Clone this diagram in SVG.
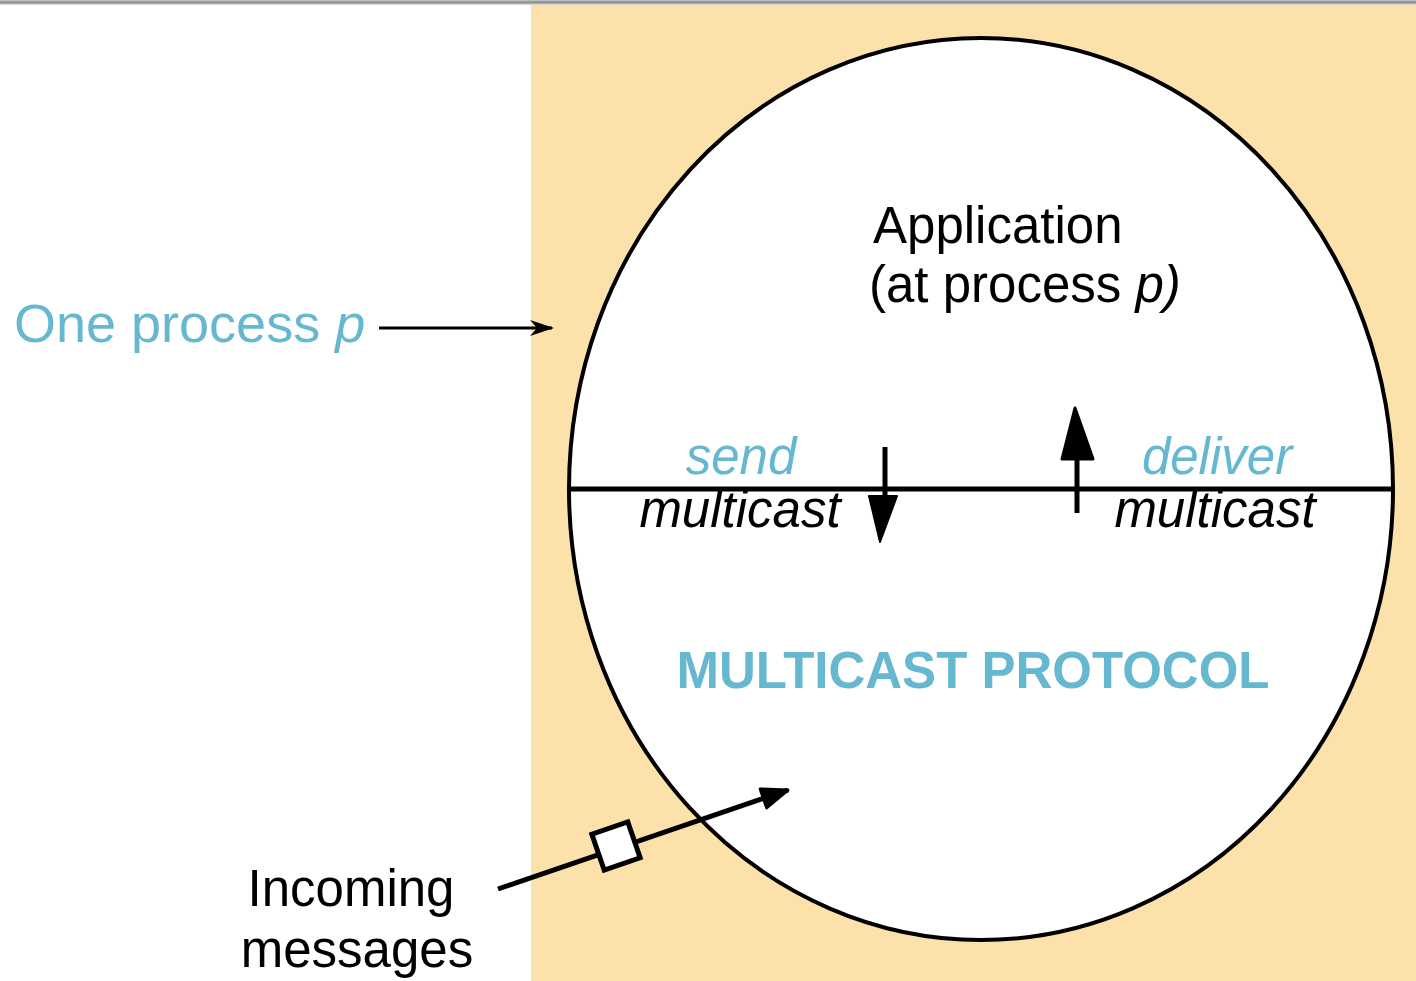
<svg xmlns="http://www.w3.org/2000/svg" width="1416" height="981" viewBox="0 0 1416 981">
  <defs>
    <linearGradient id="topbar" x1="0" y1="0" x2="0" y2="1">
      <stop offset="0" stop-color="#c8c8c8"/>
      <stop offset="0.5" stop-color="#8a8a8a"/>
      <stop offset="1" stop-color="#e8e8e8"/>
    </linearGradient>
    <marker id="chevron" viewBox="0 0 24 16" refX="22" refY="8" markerWidth="24" markerHeight="16" markerUnits="userSpaceOnUse" orient="auto">
      <path d="M0,0 L24,8 L0,16 L7,8 Z" fill="#000"/>
    </marker>
    <marker id="solid" viewBox="0 0 30 24" refX="28" refY="12" markerWidth="30" markerHeight="24" markerUnits="userSpaceOnUse" orient="auto">
      <path d="M2,2 L28,12 L2,22 Z" fill="#000" stroke="#000" stroke-width="3" stroke-linejoin="round"/>
    </marker>
  </defs>
  <style>
    .sans { font-family: "Liberation Sans", Arial, sans-serif; }
    .blue { fill: #66b8d1; }
    .black { fill: #000; }
    .big { font-size: 51px; }
    .ital { font-style: italic; }
    .line { stroke: #000; stroke-width: 5; fill: none; }
  </style>

  <rect x="0" y="0" width="1416" height="981" fill="#ffffff"/>
  <rect x="0" y="0" width="1416" height="5" fill="url(#topbar)"/>

  <!-- process area -->
  <g id="process">
    <rect x="531" y="5" width="885" height="976" fill="#fde1ab"/>
    <ellipse cx="981" cy="489" rx="412" ry="451" fill="#ffffff" stroke="#000" stroke-width="4"/>
    <line x1="569" y1="489" x2="1394" y2="489" stroke="#000" stroke-width="5"/>
  </g>

  <g id="label-process">
    <text class="sans blue" x="14" y="342" font-size="54">One process <tspan font-style="italic">p</tspan></text>
  </g>

  <g id="application">
    <text class="sans black big" x="873" y="243">Application</text>
    <text class="sans black big" x="869" y="302">(at process <tspan font-style="italic">p)</tspan></text>
  </g>

  <g id="send-multicast">
    <text class="sans blue ital big" x="741" y="474" text-anchor="middle">send</text>
    <text class="sans black ital big" x="740" y="527" text-anchor="middle">multicast</text>
  </g>

  <g id="deliver-multicast">
    <text class="sans blue ital big" x="1217" y="474" text-anchor="middle">deliver</text>
    <text class="sans black ital big" x="1215" y="527" text-anchor="middle">multicast</text>
  </g>

  <g id="protocol">
    <text class="sans blue" x="973" y="688" font-size="51" font-weight="bold" text-anchor="middle">MULTICAST PROTOCOL</text>
  </g>

  <g id="incoming">
    <text class="sans black big" x="351" y="906" text-anchor="middle">Incoming</text>
    <text class="sans black big" x="357" y="967" text-anchor="middle">messages</text>
  </g>

  <!-- connectors -->
  <g id="connectors">
    <line x1="379" y1="328" x2="552" y2="328" stroke="#000" stroke-width="3" marker-end="url(#chevron)"/>
    <!-- send: downward arrow -->
    <line x1="885" y1="447" x2="885" y2="500" class="line"/>
    <path d="M869,496 L897,496 L880,542 Z" fill="#000" stroke="#000" stroke-width="2" stroke-linejoin="round"/>
    <!-- deliver: upward arrow -->
    <line x1="1077" y1="513" x2="1077" y2="458" class="line"/>
    <path d="M1062,459 L1093,459 L1075,408 Z" fill="#000" stroke="#000" stroke-width="3" stroke-linejoin="round"/>
    <!-- incoming message path -->
    <line x1="498" y1="889" x2="788" y2="790" class="line" marker-end="url(#solid)"/>
    <rect x="-19" y="-19" width="38" height="38" fill="#ffffff" stroke="#000" stroke-width="5" transform="translate(616,846) rotate(-19)"/>
  </g>
</svg>
